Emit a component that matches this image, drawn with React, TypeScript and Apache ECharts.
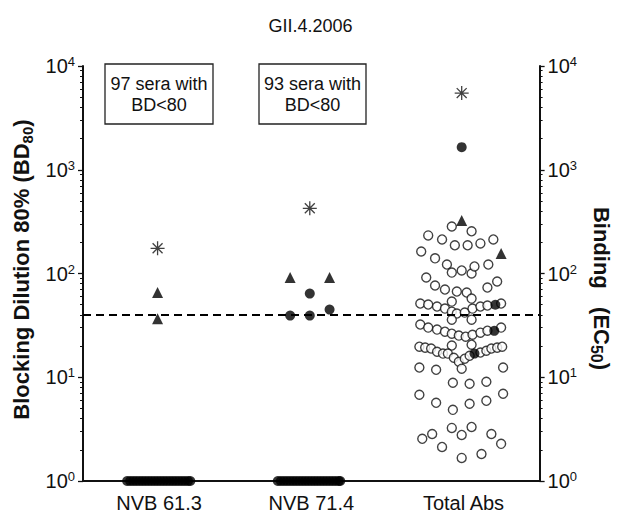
import React, { useEffect, useRef } from "react";
import * as echarts from "echarts";

const categories = ["NVB 61.3", "NVB 71.4", "Total Abs"];
const titleText = "GII.4.2006";
const boxTexts = ["97 sera with\nBD<80", "93 sera with\nBD<80"];
const cutoff = 40;

// many sera at the detection floor (value 1), drawn as a dense band
const floorXs61 = [0.29, 0.31, 0.33, 0.35, 0.37, 0.39, 0.41, 0.43, 0.45, 0.47, 0.49, 0.51, 0.53, 0.55, 0.57, 0.59, 0.61, 0.63, 0.65, 0.67, 0.69, 0.705];
const floorXs71 = [1.28, 1.3, 1.32, 1.34, 1.36, 1.38, 1.4, 1.42, 1.44, 1.46, 1.48, 1.5, 1.52, 1.54, 1.56, 1.58, 1.6, 1.62, 1.64, 1.66, 1.68, 1.69];

const asterisks: [number, number][] = [
  [0.49, 175],
  [1.49, 425],
  [2.488, 5480],
];
const triangles: [number, number][] = [
  [0.49, 65.5],
  [0.49, 36.7],
  [1.361, 91.5],
  [1.62, 91.5],
  [2.488, 325],
  [2.747, 156],
];
const filledCircles: [number, number][] = [
  [1.49, 64],
  [1.361, 39.3],
  [1.49, 39.3],
  [1.62, 44.9],
  [2.488, 1650],
  [2.709, 50],
  [2.702, 28],
  [2.572, 16.9],
];
const openCircles: [number, number][] = [
  [2.423, 284], [2.553, 255],
  [2.268, 233], [2.359, 213], [2.443, 187], [2.527, 187], [2.611, 195], [2.696, 213],
  [2.222, 163], [2.313, 140], [2.391, 122], [2.423, 102], [2.488, 107], [2.553, 100], [2.572, 117], [2.663, 122],
  [2.255, 91.5], [2.313, 76.6], [2.378, 70], [2.456, 67], [2.521, 65.5], [2.553, 57.3], [2.657, 73.2], [2.721, 83.7],
  [2.423, 53.6],
  [2.216, 51.3], [2.268, 50.2], [2.326, 48], [2.378, 45.9], [2.423, 42.9], [2.456, 41.1], [2.508, 42], [2.559, 45.9], [2.611, 48], [2.657, 49.1], [2.747, 51.3],
  [2.423, 35.9], [2.553, 35.9],
  [2.216, 32.2], [2.268, 30.1], [2.326, 28.8], [2.378, 27.5], [2.423, 26.3], [2.469, 25.2], [2.514, 24.6], [2.559, 25.7], [2.611, 26.9], [2.657, 28.1], [2.747, 30.1],
  [2.423, 20.2], [2.553, 20.6],
  [2.21, 19.7], [2.248, 19.3], [2.287, 18.9], [2.326, 17.6], [2.365, 16.9], [2.397, 16.9], [2.436, 15.4], [2.469, 14.1], [2.488, 12.1], [2.508, 15.1], [2.54, 16.1], [2.611, 17.3], [2.65, 18.0], [2.683, 18.9], [2.721, 19.3], [2.754, 19.7],
  [2.21, 12.4], [2.32, 11.8], [2.76, 12.4],
  [2.43, 8.85], [2.54, 8.65], [2.65, 9.05],
  [2.21, 6.78], [2.32, 5.67], [2.43, 4.85], [2.54, 5.55], [2.65, 5.93], [2.76, 6.93],
  [2.423, 3.25], [2.553, 3.32], [2.294, 2.84], [2.229, 2.55], [2.488, 2.78], [2.683, 2.84], [2.359, 2.13], [2.747, 2.28], [2.488, 1.67], [2.618, 1.82],
];

const FONT = "Arial, 'Liberation Sans', Helvetica, sans-serif";
const INK = "#111";
const ASTERISK = "path://M10,0L10,20M0,10L20,10M2.9,2.9L17.1,17.1M2.9,17.1L17.1,2.9";

const expLabel = (v: number) => `{b|10}{s|${Math.round(Math.log10(v))}}`;
const expRich = {
  b: { fontSize: 20, fontFamily: FONT, color: INK, lineHeight: 22 },
  s: { fontSize: 13, fontFamily: FONT, color: INK, verticalAlign: "top", lineHeight: 22, padding: [0, 0, 12, 0] },
};

export default function App() {
  const ref = useRef<HTMLDivElement>(null);
  useEffect(() => {
    if (!ref.current) return;
    const chart = echarts.init(ref.current, null, { renderer: "svg" });
    const yCommon = {
      type: "log" as const,
      logBase: 10,
      min: 1,
      max: 10000,
      splitLine: { show: false },
      axisLine: { show: true, lineStyle: { color: INK, width: 2 } },
      axisTick: { show: true, inside: false, length: 5, lineStyle: { color: INK, width: 1.3 } },
      minorTick: { show: true, splitNumber: 9, length: 3, lineStyle: { color: INK, width: 1 } },
      axisLabel: { formatter: expLabel, rich: expRich, margin: 8 },
      nameLocation: "middle" as const,
    };
    const option: any = {
      animation: false,
      backgroundColor: "#fff",
      title: {
        text: titleText,
        left: "center",
        top: 12,
        textStyle: { fontFamily: FONT, fontSize: 18, fontWeight: "normal", color: INK },
      },
      grid: { left: 83, right: 75, top: 66, bottom: 48, containLabel: false },
      xAxis: [
        {
          type: "category",
          data: categories,
          boundaryGap: true,
          axisLine: { lineStyle: { color: INK, width: 2 } },
          axisTick: { alignWithLabel: true, length: 5, lineStyle: { color: INK, width: 1.3 } },
          axisLabel: { fontFamily: FONT, fontSize: 20, color: INK, margin: 12 },
          splitLine: { show: false },
        },
        { type: "value", min: 0, max: 3, show: false },
      ],
      yAxis: [
        {
          ...yCommon,
          position: "left",
          name: "{a|Blocking Dilution 80% (BD}{u|80}{a|)}",
          nameRotate: 90,
          nameGap: 46,
          nameTextStyle: {
            padding: [0, 0, 0, 8],
            rich: {
              a: { fontFamily: FONT, fontSize: 22, fontWeight: "bold", color: INK, lineHeight: 26 },
              u: { fontFamily: FONT, fontSize: 15, fontWeight: "bold", color: INK, verticalAlign: "bottom", lineHeight: 26, padding: [9, 0, 0, 0] },
            },
          },
        },
        {
          ...yCommon,
          position: "right",
          name: "{a|Binding   (EC}{u|50}{a|)}",
          nameRotate: -90,
          nameGap: 46,
          nameTextStyle: {
            padding: [0, 0, 0, 30],
            rich: {
              a: { fontFamily: FONT, fontSize: 22, fontWeight: "bold", color: INK, lineHeight: 26 },
              u: { fontFamily: FONT, fontSize: 16, fontWeight: "bold", color: INK, verticalAlign: "bottom", lineHeight: 26, padding: [9, 0, 0, 0] },
            },
          },
        },
      ],
      graphic: [
        { type: "rect", shape: { x: 105, y: 64, width: 108, height: 60 }, style: { fill: "#fff", stroke: "#222", lineWidth: 1.3 }, z: 10 },
        { type: "text", x: 159, y: 94, z: 11, style: { text: boxTexts[0], font: `18px ${FONT}`, fill: INK, align: "center", verticalAlign: "middle", textAlign: "center", textVerticalAlign: "middle", lineHeight: 21 } },
        { type: "rect", shape: { x: 259, y: 64, width: 107, height: 60 }, style: { fill: "#fff", stroke: "#222", lineWidth: 1.3 }, z: 10 },
        { type: "text", x: 312.5, y: 94, z: 11, style: { text: boxTexts[1], font: `18px ${FONT}`, fill: INK, align: "center", verticalAlign: "middle", textAlign: "center", textVerticalAlign: "middle", lineHeight: 21 } },
      ],
      series: [
        {
          type: "scatter",
          xAxisIndex: 1,
          yAxisIndex: 0,
          clip: false,
          symbol: "circle",
          symbolSize: 10,
          itemStyle: { color: "#000" },
          data: [...floorXs61, ...floorXs71].map((x) => [x, 1]),
          markLine: {
            silent: true,
            symbol: "none",
            label: { show: false },
            lineStyle: { color: "#000", width: 2, type: [8, 5] },
            data: [{ yAxis: cutoff }],
          },
          z: 3,
        },
        {
          type: "scatter",
          xAxisIndex: 1,
          yAxisIndex: 0,
          symbol: "circle",
          symbolSize: 9,
          itemStyle: { color: "#fff", borderColor: "#111", borderWidth: 1.4 },
          data: openCircles,
          z: 4,
        },
        {
          type: "scatter",
          xAxisIndex: 1,
          yAxisIndex: 0,
          symbol: "circle",
          symbolSize: 10,
          itemStyle: { color: "#000" },
          data: filledCircles,
          z: 5,
        },
        {
          type: "scatter",
          xAxisIndex: 1,
          yAxisIndex: 0,
          symbol: "triangle",
          symbolSize: 11,
          itemStyle: { color: "#000" },
          data: triangles,
          z: 5,
        },
        {
          type: "scatter",
          xAxisIndex: 1,
          yAxisIndex: 0,
          symbol: ASTERISK,
          symbolSize: 14,
          itemStyle: { color: "none", borderColor: "#111", borderWidth: 1.3 },
          data: asterisks,
          z: 5,
        },
      ],
    };
    chart.setOption(option);
    return () => chart.dispose();
  }, []);
  return <div ref={ref} style={{ position: "absolute", left: 0, top: 0, width: 621, height: 529 }} />;
}
